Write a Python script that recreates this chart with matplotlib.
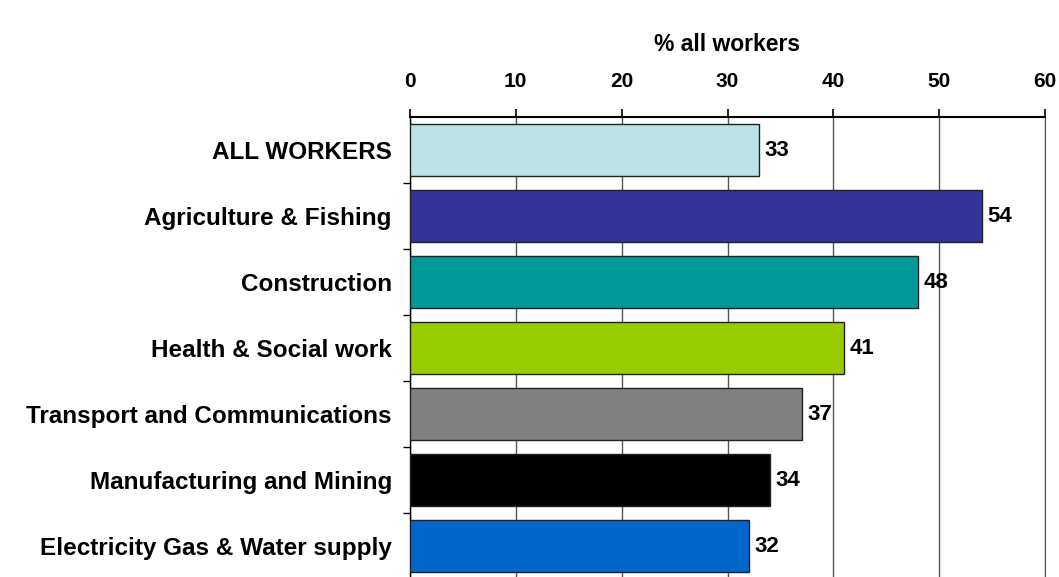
import matplotlib.pyplot as plt

# Share of workers by sector (%)
sectors = ['ALL WORKERS', 'Agriculture & Fishing', 'Construction',
           'Health & Social work', 'Transport and Communications',
           'Manufacturing and Mining', 'Electricity Gas & Water supply']
values = [33, 54, 48, 41, 37, 34, 32]
colors = ['#bde3e6', '#333399', '#009999', '#99cc00',
          '#808080', '#000000', '#0066cc']
ticks = [0, 10, 20, 30, 40, 50, 60]

plt.rcParams['font.family'] = ['Liberation Sans', 'DejaVu Sans']

fig = plt.figure(figsize=(10.59, 5.77), dpi=100)
ax = fig.add_axes([0.387, -0.004, 0.600, 0.801])

ypos = list(range(len(sectors)))
ax.barh(ypos, values, height=0.79, color=colors, edgecolor='#222222',
        linewidth=1.0, zorder=3)
for y, v in zip(ypos, values):
    ax.text(v + 0.5, y, str(v), va='center', ha='left',
            fontsize=16, fontweight='bold', zorder=4)

ax.set_ylim(len(sectors) - 0.5, -0.5)
ax.set_xlim(0, 60)
ax.set_yticks(ypos)
ax.set_yticklabels(sectors, fontsize=17.5, fontweight='bold')
ax.set_yticks([y + 0.5 for y in ypos[:-1]], minor=True)
ax.tick_params(axis='y', which='major', length=0, pad=13)
ax.tick_params(axis='y', which='minor', length=5, width=1, direction='out')

ax.xaxis.tick_top()
ax.xaxis.set_label_position('top')
ax.set_xticks(ticks)
ax.set_xticklabels([str(t) for t in ticks], fontsize=15, fontweight='bold')
ax.tick_params(axis='x', length=6, width=1.2, direction='out', pad=13)
ax.set_xlabel('% all workers', fontsize=16.5, fontweight='bold', labelpad=15)

ax.grid(axis='x', color='#555555', linewidth=1.0, zorder=0)
ax.spines['bottom'].set_visible(False)
ax.spines['right'].set_color('#555555')
ax.spines['top'].set_linewidth(1.5)
ax.spines['left'].set_linewidth(1.0)

fig.savefig('out.png', dpi=100)
